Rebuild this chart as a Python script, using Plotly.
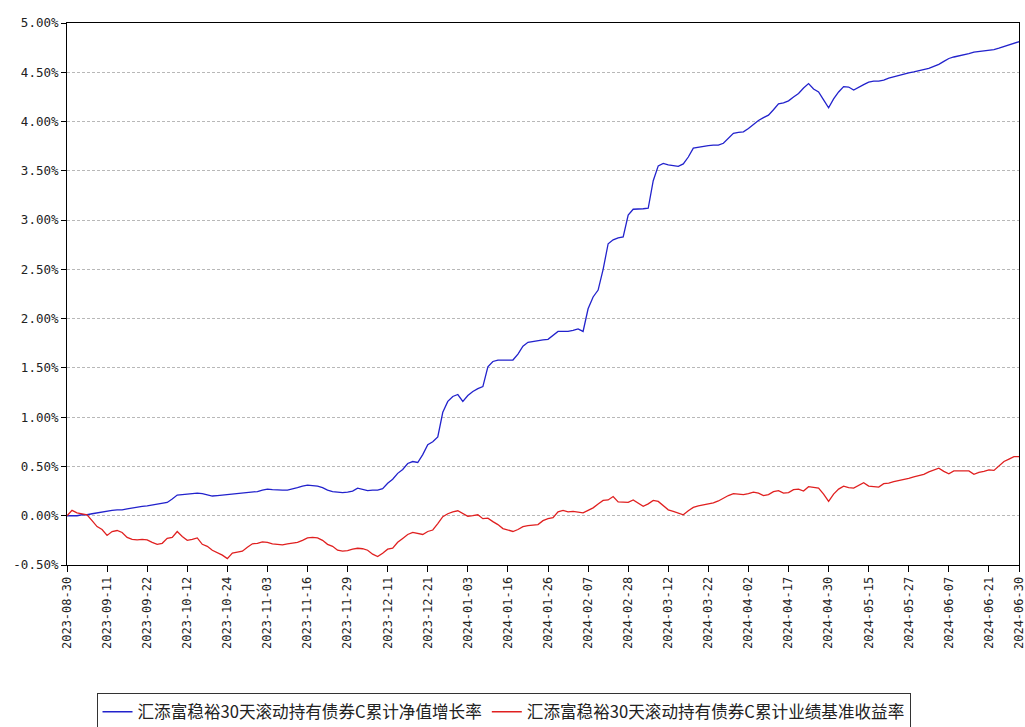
import plotly.graph_objects as go

# tick labels on the x axis (one every 8 trading days, plus the last day)
tick_labels = ['2023-08-30', '2023-09-11', '2023-09-22', '2023-10-12', '2023-10-24',
               '2023-11-03', '2023-11-16', '2023-11-29', '2023-12-11', '2023-12-21',
               '2024-01-03', '2024-01-16', '2024-01-26', '2024-02-07', '2024-02-28',
               '2024-03-12', '2024-03-22', '2024-04-02', '2024-04-17', '2024-04-30',
               '2024-05-15', '2024-05-27', '2024-06-07', '2024-06-21', '2024-06-30']

names = ['汇添富稳裕30天滚动持有债券C累计净值增长率', '汇添富稳裕30天滚动持有债券C累计业绩基准收益率']

# cumulative NAV growth (%)
nav = [0.00, 0.00, 0.00, 0.01, 0.01, 0.02, 0.03, 0.04, 0.05, 0.055,
       0.06, 0.06, 0.07, 0.08, 0.09, 0.095, 0.10, 0.11, 0.12, 0.13,
       0.135, 0.17, 0.21, 0.215, 0.22, 0.225, 0.23, 0.225, 0.21, 0.20,
       0.205, 0.21, 0.22, 0.225, 0.23, 0.235, 0.24, 0.24, 0.245, 0.26,
       0.27, 0.265, 0.26, 0.26, 0.26, 0.27, 0.285, 0.30, 0.31, 0.305,
       0.30, 0.285, 0.26, 0.245, 0.24, 0.235, 0.24, 0.25, 0.28, 0.265,
       0.255, 0.26, 0.26, 0.275, 0.33, 0.37, 0.43, 0.47, 0.53, 0.55,
       0.54, 0.62, 0.72, 0.75, 0.80, 1.05, 1.16, 1.21, 1.23, 1.16,
       1.22, 1.26, 1.29, 1.31, 1.51, 1.565, 1.58, 1.58, 1.58, 1.58,
       1.64, 1.72, 1.76, 1.77, 1.78, 1.785, 1.79, 1.83, 1.87, 1.87,
       1.87, 1.88, 1.895, 1.87, 2.10, 2.22, 2.29, 2.50, 2.76, 2.80,
       2.82, 2.83, 3.05, 3.11, 3.11, 3.115, 3.12, 3.40, 3.55, 3.575,
       3.56, 3.55, 3.545, 3.57, 3.64, 3.73, 3.74, 3.75, 3.755, 3.76,
       3.76, 3.78, 3.83, 3.88, 3.89, 3.895, 3.93, 3.97, 4.01, 4.04,
       4.065, 4.12, 4.18, 4.19, 4.21, 4.25, 4.285, 4.34, 4.385, 4.33,
       4.30, 4.22, 4.14, 4.23, 4.30, 4.355, 4.35, 4.32, 4.35, 4.375,
       4.40, 4.41, 4.41, 4.42, 4.44, 4.455, 4.465, 4.48, 4.495, 4.505,
       4.515, 4.525, 4.54, 4.56, 4.58, 4.61, 4.64, 4.655, 4.665, 4.68,
       4.69, 4.705, 4.71, 4.715, 4.72, 4.73, 4.745, 4.76, 4.775, 4.79, 4.81]

# cumulative benchmark return (%)
bench = [0.00, 0.055, 0.03, 0.02, 0.01, -0.05, -0.11, -0.14, -0.20, -0.16,
         -0.15, -0.17, -0.22, -0.24, -0.245, -0.24, -0.245, -0.27, -0.29, -0.28,
         -0.23, -0.22, -0.16, -0.21, -0.25, -0.24, -0.225, -0.29, -0.31, -0.35,
         -0.375, -0.40, -0.435, -0.38, -0.37, -0.36, -0.32, -0.285, -0.28, -0.265,
         -0.27, -0.285, -0.29, -0.295, -0.285, -0.275, -0.27, -0.25, -0.225, -0.22,
         -0.225, -0.25, -0.29, -0.31, -0.35, -0.36, -0.355, -0.34, -0.33, -0.335,
         -0.35, -0.39, -0.415, -0.38, -0.34, -0.33, -0.27, -0.23, -0.19, -0.17,
         -0.18, -0.19, -0.16, -0.145, -0.08, -0.01, 0.02, 0.04, 0.05, 0.02,
         -0.005, 0.00, 0.01, -0.03, -0.025, -0.06, -0.09, -0.13, -0.145, -0.16,
         -0.14, -0.11, -0.10, -0.095, -0.09, -0.05, -0.03, -0.02, 0.04, 0.055,
         0.04, 0.045, 0.04, 0.03, 0.055, 0.08, 0.12, 0.155, 0.16, 0.195,
         0.14, 0.135, 0.135, 0.16, 0.13, 0.095, 0.12, 0.155, 0.145, 0.10,
         0.06, 0.045, 0.03, 0.01, 0.05, 0.085, 0.10, 0.11, 0.125, 0.13,
         0.15, 0.18, 0.205, 0.225, 0.22, 0.215, 0.225, 0.24, 0.23, 0.205,
         0.215, 0.245, 0.255, 0.23, 0.235, 0.265, 0.27, 0.25, 0.295, 0.285,
         0.28, 0.22, 0.145, 0.22, 0.27, 0.30, 0.285, 0.28, 0.31, 0.335,
         0.30, 0.295, 0.29, 0.325, 0.33, 0.345, 0.355, 0.37, 0.38, 0.395,
         0.405, 0.42, 0.445, 0.465, 0.483, 0.45, 0.425, 0.455, 0.455, 0.455,
         0.455, 0.42, 0.44, 0.45, 0.465, 0.46, 0.51, 0.55, 0.575, 0.60, 0.60]

y_ticks = [-0.5, 0.0, 0.5, 1.0, 1.5, 2.0, 2.5, 3.0, 3.5, 4.0, 4.5, 5.0]

x = list(range(len(nav)))
tick_pos = list(range(0, len(nav), 8)) + [len(nav) - 1]

fig = go.Figure()
fig.add_trace(go.Scatter(x=x, y=nav, mode='lines', name=names[0],
                         line=dict(color='#2222cc', width=1.3)))
fig.add_trace(go.Scatter(x=x, y=bench, mode='lines', name=names[1],
                         line=dict(color='#e02020', width=1.3)))

fig.update_layout(
    width=1025, height=727,
    margin=dict(l=67, r=6, t=23, b=162, autoexpand=False),
    paper_bgcolor='white', plot_bgcolor='white',
    showlegend=True,
    legend=dict(orientation='h', x=0.031, y=-0.237, xanchor='left', yanchor='top',
                bordercolor='#333333', borderwidth=1,
                font=dict(family='Noto Sans CJK SC', size=16.6, color='#222222'),
                itemwidth=30, tracegroupgap=0),
)
fig.update_xaxes(
    range=[0, len(nav) - 1], tickmode='array', tickvals=tick_pos, ticktext=tick_labels,
    tickangle=-90, ticks='outside', ticklen=6, tickcolor='#000000',
    ticklabeloverflow='allow',
    showgrid=False, zeroline=False, automargin=False,
    showline=True, linecolor='#000000', linewidth=1, mirror=True,
    tickfont=dict(family='DejaVu Sans Mono', size=12, color='#222222'),
)
fig.update_yaxes(
    range=[-0.5, 5.0], tickmode='array', tickvals=y_ticks,
    ticktext=['%.2f%%' % v for v in y_ticks],
    ticks='outside', ticklen=5, tickcolor='#000000',
    showgrid=True, gridcolor='#b8b8b8', griddash='3px,2px', gridwidth=1,
    zeroline=False, automargin=False,
    showline=True, linecolor='#000000', linewidth=1, mirror=True,
    tickfont=dict(family='DejaVu Sans Mono', size=12.5, color='#222222'),
)

# drop the page's default body margin so the figure fills the window
fig.write_html("out.html", config={'displayModeBar': False},
               post_script="document.body.style.margin='0';")
